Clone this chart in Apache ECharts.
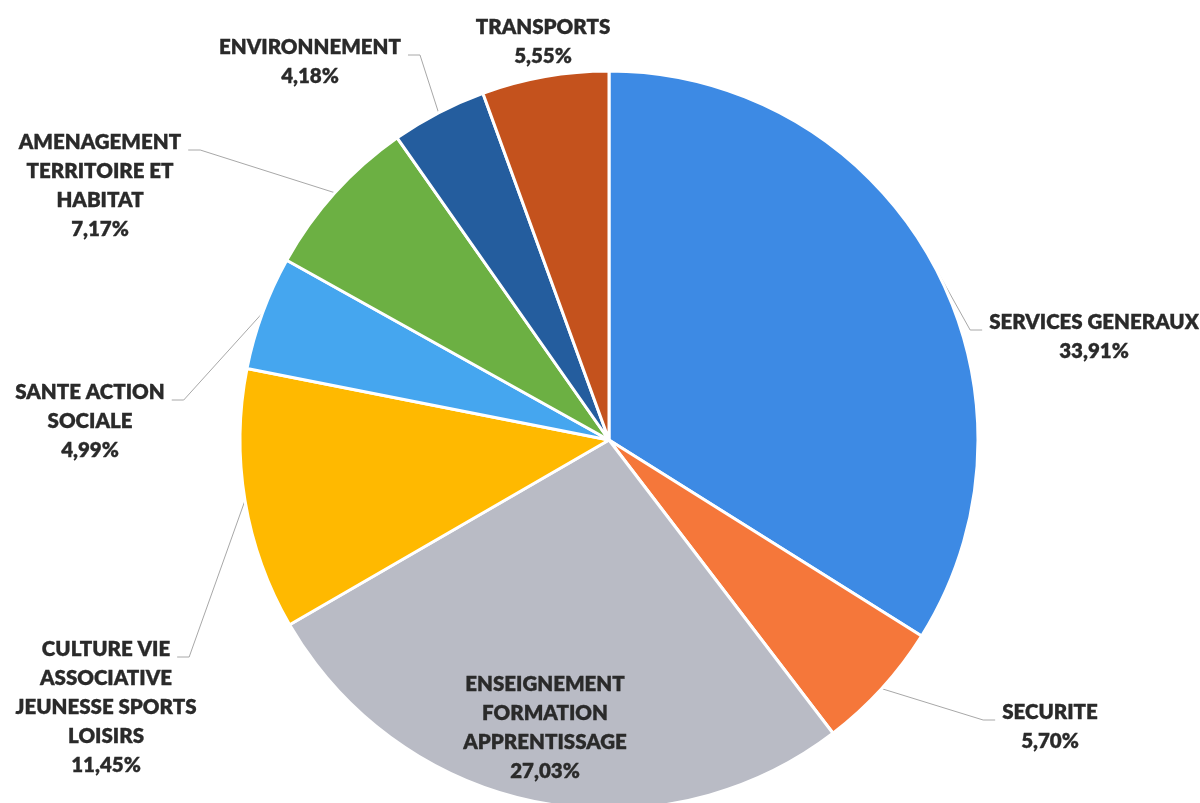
<!DOCTYPE html>
<html>
<head>
<meta charset="utf-8">
<script src="https://cdn.jsdelivr.net/npm/echarts@6/dist/echarts.min.js"></script>
<style>
  html, body { margin: 0; padding: 0; background: #ffffff; }
  #chart { width: 1200px; height: 803px; }
</style>
</head>
<body>
<div id="chart"></div>
<script>
// Budget shares by policy area (percent), clockwise from twelve o'clock
const categories = [
  'SERVICES GENERAUX',
  'SECURITE',
  'ENSEIGNEMENT\nFORMATION\nAPPRENTISSAGE',
  'CULTURE VIE\nASSOCIATIVE\nJEUNESSE SPORTS\nLOISIRS',
  'SANTE ACTION\nSOCIALE',
  'AMENAGEMENT\nTERRITOIRE ET\nHABITAT',
  'ENVIRONNEMENT',
  'TRANSPORTS'
];
const shares = [33.91, 5.70, 27.03, 11.45, 4.99, 7.17, 4.18, 5.55];

const sliceColors = ['#3d8ae4', '#f5773a', '#b9bbc5', '#ffb900', '#45a6ef', '#6cb043', '#245d9e', '#c4521d'];

// Where each label block sits: centre x, top of the first line,
// and on which side of its first line the leader line arrives (null = no leader)
const labelSpots = [
  { x: 1094, y: 308, leader: 'left' },
  { x: 1050, y: 698, leader: 'left' },
  { x: 545,  y: 670, leader: null },
  { x: 106,  y: 635, leader: 'right' },
  { x: 90,   y: 378, leader: 'right' },
  { x: 100,  y: 128, leader: 'right' },
  { x: 310,  y: 33,  leader: 'right' },
  { x: 543,  y: 13,  leader: null }
];

const FONT_FAMILY = 'Lato';
const FONT_WEIGHT = 800;
const FONT_SIZE = 20.5;
const LINE_HEIGHT = 29;

const measureCtx = document.createElement('canvas').getContext('2d');
measureCtx.font = FONT_WEIGHT + ' ' + FONT_SIZE + 'px ' + FONT_FAMILY;
function textWidth(s) { return measureCtx.measureText(s).width; }

function fmtPct(v) { return v.toFixed(2).replace('.', ',') + '%'; }

const chart = echarts.init(document.getElementById('chart'), null, { renderer: 'canvas' });

chart.setOption({
  animation: false,
  backgroundColor: '#ffffff',
  series: [{
    type: 'pie',
    center: [609, 440],
    radius: 369,
    startAngle: 90,
    clockwise: true,
    avoidLabelOverlap: false,
    silent: true,
    itemStyle: { borderColor: '#ffffff', borderWidth: 3 },
    label: {
      show: true,
      position: 'outside',
      color: '#2a2a2a',
      fontFamily: FONT_FAMILY,
      fontWeight: FONT_WEIGHT,
      fontSize: FONT_SIZE,
      lineHeight: LINE_HEIGHT,
      align: 'center',
      textBorderColor: '#2a2a2a',
      textBorderWidth: 0.3,
      formatter: function (p) { return categories[p.dataIndex] + '\n' + fmtPct(shares[p.dataIndex]); }
    },
    labelLine: {
      show: true,
      length: 10,
      length2: 10,
      lineStyle: { color: '#a8a8a8', width: 1 }
    },
    labelLayout: function (p) {
      const spot = labelSpots[p.dataIndex];
      const out = { x: spot.x, y: spot.y, align: 'center', verticalAlign: 'top' };
      if (spot.leader && p.labelLinePoints) {
        const w = textWidth(categories[p.dataIndex].split('\n')[0]);
        const yLine = spot.y + 22;
        let endX, kneeX;
        if (spot.leader === 'left') {
          endX = spot.x - w / 2 - 7;
          kneeX = endX - 12;
        } else {
          endX = spot.x + w / 2 + 7;
          kneeX = endX + 12;
        }
        out.labelLinePoints = [p.labelLinePoints[0], [kneeX, yLine], [endX, yLine]];
      }
      return out;
    },
    data: categories.map(function (name, i) {
      const item = { name: name, value: shares[i], itemStyle: { color: sliceColors[i] } };
      if (!labelSpots[i].leader) item.labelLine = { show: false };
      return item;
    })
  }]
});
</script>
</body>
</html>
